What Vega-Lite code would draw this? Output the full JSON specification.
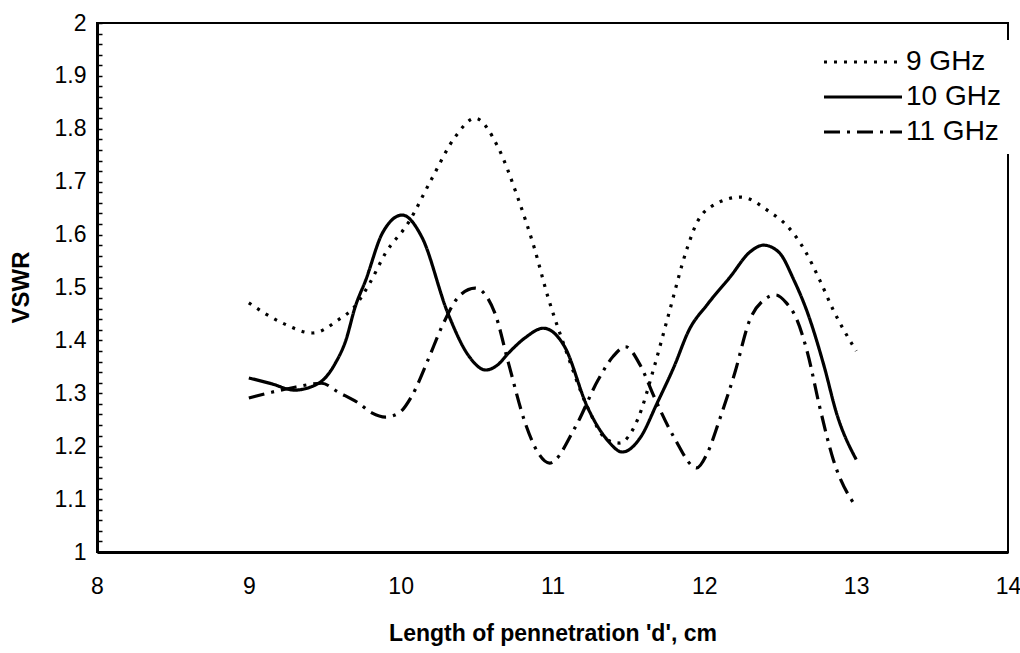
{
  "$schema": "https://vega.github.io/schema/vega-lite/v6.json",
  "width": 911,
  "height": 529,
  "autosize": "none",
  "padding": {"left": 97, "top": 23, "right": 12, "bottom": 101},
  "background": "white",
  "config": {
    "view": {"stroke": "black", "strokeWidth": 2},
    "font": "Liberation Sans"
  },
  "data": {
    "values": [
      {"d": 9.00, "VSWR": 1.471, "f": "9 GHz"},
      {"d": 9.22, "VSWR": 1.433, "f": "9 GHz"},
      {"d": 9.42, "VSWR": 1.414, "f": "9 GHz"},
      {"d": 9.59, "VSWR": 1.439, "f": "9 GHz"},
      {"d": 9.70, "VSWR": 1.465, "f": "9 GHz"},
      {"d": 9.80, "VSWR": 1.510, "f": "9 GHz"},
      {"d": 9.90, "VSWR": 1.565, "f": "9 GHz"},
      {"d": 10.05, "VSWR": 1.622, "f": "9 GHz"},
      {"d": 10.20, "VSWR": 1.703, "f": "9 GHz"},
      {"d": 10.36, "VSWR": 1.785, "f": "9 GHz"},
      {"d": 10.49, "VSWR": 1.820, "f": "9 GHz"},
      {"d": 10.64, "VSWR": 1.766, "f": "9 GHz"},
      {"d": 10.77, "VSWR": 1.671, "f": "9 GHz"},
      {"d": 10.88, "VSWR": 1.575, "f": "9 GHz"},
      {"d": 10.97, "VSWR": 1.482, "f": "9 GHz"},
      {"d": 11.08, "VSWR": 1.388, "f": "9 GHz"},
      {"d": 11.23, "VSWR": 1.274, "f": "9 GHz"},
      {"d": 11.36, "VSWR": 1.212, "f": "9 GHz"},
      {"d": 11.44, "VSWR": 1.206, "f": "9 GHz"},
      {"d": 11.56, "VSWR": 1.250, "f": "9 GHz"},
      {"d": 11.67, "VSWR": 1.350, "f": "9 GHz"},
      {"d": 11.76, "VSWR": 1.444, "f": "9 GHz"},
      {"d": 11.89, "VSWR": 1.577, "f": "9 GHz"},
      {"d": 11.95, "VSWR": 1.622, "f": "9 GHz"},
      {"d": 12.04, "VSWR": 1.652, "f": "9 GHz"},
      {"d": 12.24, "VSWR": 1.671, "f": "9 GHz"},
      {"d": 12.43, "VSWR": 1.643, "f": "9 GHz"},
      {"d": 12.54, "VSWR": 1.618, "f": "9 GHz"},
      {"d": 12.66, "VSWR": 1.571, "f": "9 GHz"},
      {"d": 12.76, "VSWR": 1.514, "f": "9 GHz"},
      {"d": 12.85, "VSWR": 1.457, "f": "9 GHz"},
      {"d": 13.00, "VSWR": 1.380, "f": "9 GHz"},

      {"d": 9.00, "VSWR": 1.329, "f": "10 GHz"},
      {"d": 9.15, "VSWR": 1.318, "f": "10 GHz"},
      {"d": 9.30, "VSWR": 1.306, "f": "10 GHz"},
      {"d": 9.46, "VSWR": 1.319, "f": "10 GHz"},
      {"d": 9.57, "VSWR": 1.357, "f": "10 GHz"},
      {"d": 9.64, "VSWR": 1.401, "f": "10 GHz"},
      {"d": 9.70, "VSWR": 1.463, "f": "10 GHz"},
      {"d": 9.77, "VSWR": 1.514, "f": "10 GHz"},
      {"d": 9.88, "VSWR": 1.603, "f": "10 GHz"},
      {"d": 10.01, "VSWR": 1.637, "f": "10 GHz"},
      {"d": 10.14, "VSWR": 1.595, "f": "10 GHz"},
      {"d": 10.31, "VSWR": 1.452, "f": "10 GHz"},
      {"d": 10.45, "VSWR": 1.370, "f": "10 GHz"},
      {"d": 10.56, "VSWR": 1.344, "f": "10 GHz"},
      {"d": 10.64, "VSWR": 1.354, "f": "10 GHz"},
      {"d": 10.71, "VSWR": 1.376, "f": "10 GHz"},
      {"d": 10.82, "VSWR": 1.405, "f": "10 GHz"},
      {"d": 10.94, "VSWR": 1.423, "f": "10 GHz"},
      {"d": 11.08, "VSWR": 1.388, "f": "10 GHz"},
      {"d": 11.23, "VSWR": 1.274, "f": "10 GHz"},
      {"d": 11.36, "VSWR": 1.212, "f": "10 GHz"},
      {"d": 11.46, "VSWR": 1.189, "f": "10 GHz"},
      {"d": 11.58, "VSWR": 1.217, "f": "10 GHz"},
      {"d": 11.69, "VSWR": 1.282, "f": "10 GHz"},
      {"d": 11.80, "VSWR": 1.350, "f": "10 GHz"},
      {"d": 11.90, "VSWR": 1.420, "f": "10 GHz"},
      {"d": 12.02, "VSWR": 1.468, "f": "10 GHz"},
      {"d": 12.17, "VSWR": 1.520, "f": "10 GHz"},
      {"d": 12.30, "VSWR": 1.567, "f": "10 GHz"},
      {"d": 12.39, "VSWR": 1.580, "f": "10 GHz"},
      {"d": 12.49, "VSWR": 1.567, "f": "10 GHz"},
      {"d": 12.59, "VSWR": 1.514, "f": "10 GHz"},
      {"d": 12.68, "VSWR": 1.452, "f": "10 GHz"},
      {"d": 12.79, "VSWR": 1.350, "f": "10 GHz"},
      {"d": 12.87, "VSWR": 1.263, "f": "10 GHz"},
      {"d": 13.00, "VSWR": 1.175, "f": "10 GHz"},

      {"d": 9.00, "VSWR": 1.291, "f": "11 GHz"},
      {"d": 9.15, "VSWR": 1.302, "f": "11 GHz"},
      {"d": 9.31, "VSWR": 1.312, "f": "11 GHz"},
      {"d": 9.48, "VSWR": 1.319, "f": "11 GHz"},
      {"d": 9.59, "VSWR": 1.302, "f": "11 GHz"},
      {"d": 9.72, "VSWR": 1.282, "f": "11 GHz"},
      {"d": 9.81, "VSWR": 1.263, "f": "11 GHz"},
      {"d": 9.90, "VSWR": 1.255, "f": "11 GHz"},
      {"d": 9.99, "VSWR": 1.263, "f": "11 GHz"},
      {"d": 10.07, "VSWR": 1.293, "f": "11 GHz"},
      {"d": 10.18, "VSWR": 1.363, "f": "11 GHz"},
      {"d": 10.27, "VSWR": 1.425, "f": "11 GHz"},
      {"d": 10.38, "VSWR": 1.482, "f": "11 GHz"},
      {"d": 10.49, "VSWR": 1.499, "f": "11 GHz"},
      {"d": 10.62, "VSWR": 1.452, "f": "11 GHz"},
      {"d": 10.71, "VSWR": 1.357, "f": "11 GHz"},
      {"d": 10.82, "VSWR": 1.244, "f": "11 GHz"},
      {"d": 10.90, "VSWR": 1.190, "f": "11 GHz"},
      {"d": 10.98, "VSWR": 1.168, "f": "11 GHz"},
      {"d": 11.15, "VSWR": 1.236, "f": "11 GHz"},
      {"d": 11.30, "VSWR": 1.325, "f": "11 GHz"},
      {"d": 11.40, "VSWR": 1.370, "f": "11 GHz"},
      {"d": 11.48, "VSWR": 1.388, "f": "11 GHz"},
      {"d": 11.58, "VSWR": 1.352, "f": "11 GHz"},
      {"d": 11.67, "VSWR": 1.293, "f": "11 GHz"},
      {"d": 11.80, "VSWR": 1.217, "f": "11 GHz"},
      {"d": 11.95, "VSWR": 1.159, "f": "11 GHz"},
      {"d": 12.02, "VSWR": 1.187, "f": "11 GHz"},
      {"d": 12.10, "VSWR": 1.250, "f": "11 GHz"},
      {"d": 12.20, "VSWR": 1.338, "f": "11 GHz"},
      {"d": 12.30, "VSWR": 1.439, "f": "11 GHz"},
      {"d": 12.39, "VSWR": 1.476, "f": "11 GHz"},
      {"d": 12.47, "VSWR": 1.486, "f": "11 GHz"},
      {"d": 12.54, "VSWR": 1.471, "f": "11 GHz"},
      {"d": 12.61, "VSWR": 1.439, "f": "11 GHz"},
      {"d": 12.68, "VSWR": 1.376, "f": "11 GHz"},
      {"d": 12.76, "VSWR": 1.274, "f": "11 GHz"},
      {"d": 12.85, "VSWR": 1.174, "f": "11 GHz"},
      {"d": 13.00, "VSWR": 1.085, "f": "11 GHz"}
    ]
  },
  "mark": {"type": "line", "interpolate": "monotone", "color": "black", "strokeWidth": 3.2},
  "encoding": {
    "x": {
      "field": "d",
      "type": "quantitative",
      "scale": {"domain": [8, 14], "nice": false, "zero": false},
      "axis": {
        "values": [8, 9, 10, 11, 12, 13, 14],
        "title": "Length of pennetration 'd', cm",
        "grid": false,
        "ticks": false,
        "labelFontSize": 23,
        "labelPadding": 23,
        "labelFlush": false,
        "labelColor": "black",
        "domainColor": "black",
        "domainWidth": 3,
        "titleFontSize": 23,
        "titleFontWeight": "bold",
        "titleColor": "black",
        "titlePadding": 24
      }
    },
    "y": {
      "field": "VSWR",
      "type": "quantitative",
      "scale": {"domain": [1, 2], "nice": false, "zero": false},
      "axis": {
        "values": [1, 1.02, 1.04, 1.06, 1.08, 1.1, 1.12, 1.14, 1.16, 1.18, 1.2, 1.22, 1.24, 1.26, 1.28, 1.3, 1.32, 1.34, 1.36, 1.38, 1.4, 1.42, 1.44, 1.46, 1.48, 1.5, 1.52, 1.54, 1.56, 1.58, 1.6, 1.62, 1.64, 1.66, 1.68, 1.7, 1.72, 1.74, 1.76, 1.78, 1.8, 1.82, 1.84, 1.86, 1.88, 1.9, 1.92, 1.94, 1.96, 1.98, 2],
        "labelExpr": "abs(datum.value*10 - round(datum.value*10)) < 0.001 ? format(datum.value, '.1~f') : ''",
        "labelOverlap": false,
        "labelFlush": false,
        "grid": false,
        "tickSize": -5,
        "tickColor": "black",
        "tickWidth": 1.5,
        "labelFontSize": 23,
        "labelPadding": 16,
        "labelColor": "black",
        "domainColor": "black",
        "domainWidth": 3,
        "title": "VSWR",
        "titleFontSize": 24,
        "titleFontWeight": "bold",
        "titleColor": "black",
        "titleX": -76,
        "titleY": 264,
        "titleAngle": 270,
        "titleAlign": "center",
        "titleBaseline": "middle"
      }
    },
    "strokeDash": {
      "field": "f",
      "type": "nominal",
      "scale": {"domain": ["9 GHz", "10 GHz", "11 GHz"], "range": [[3, 7], [1, 0], [16, 7, 3, 7]]},
      "legend": {
        "title": null,
        "orient": "none",
        "legendX": 715,
        "legendY": 17,
        "fillColor": "white",
        "padding": 8,
        "symbolType": "M-1,0H6.8",
        "symbolSize": 400,
        "symbolStrokeWidth": 3,
        "symbolStrokeColor": "black",
        "labelFontSize": 28,
        "labelColor": "black",
        "labelOffset": 58,
        "rowPadding": 7
      }
    }
  }
}
